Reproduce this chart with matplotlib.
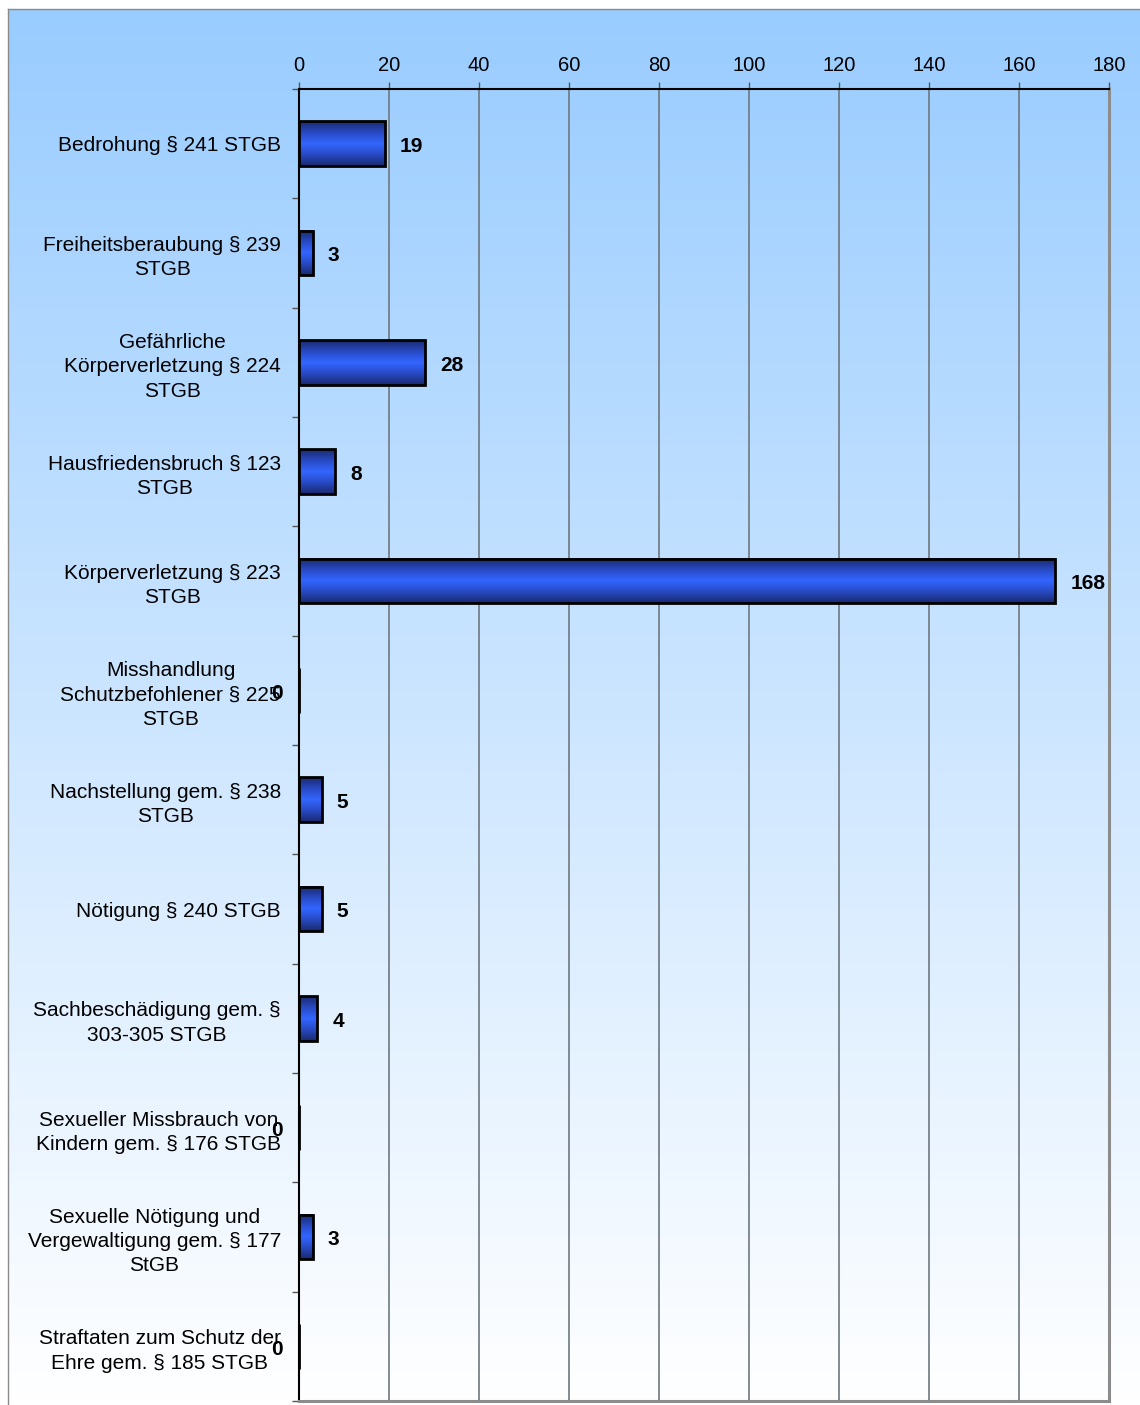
import numpy as np
import matplotlib.pyplot as plt
from matplotlib.colors import LinearSegmentedColormap

plt.rcParams['font.family'] = ['Liberation Sans', 'DejaVu Sans']

categories = [
    "Bedrohung § 241 STGB",
    "Freiheitsberaubung § 239\nSTGB",
    "Gefährliche\nKörperverletzung § 224\nSTGB",
    "Hausfriedensbruch § 123\nSTGB",
    "Körperverletzung § 223\nSTGB",
    "Misshandlung\nSchutzbefohlener § 225\nSTGB",
    "Nachstellung gem. § 238\nSTGB",
    "Nötigung § 240 STGB",
    "Sachbeschädigung gem. §\n303-305 STGB",
    "Sexueller Missbrauch von\nKindern gem. § 176 STGB",
    "Sexuelle Nötigung und\nVergewaltigung gem. § 177\nStGB",
    "Straftaten zum Schutz der\nEhre gem. § 185 STGB",
]
counts = [19, 3, 28, 8, 168, 0, 5, 5, 4, 0, 3, 0]
x_ticks = [0, 20, 40, 60, 80, 100, 120, 140, 160, 180]

W, H = 1140, 1405
fig = plt.figure(figsize=(W / 100, H / 100), dpi=100)

# light blue to white background inside the frame
bg = fig.add_axes([8 / W, 0, 1 - 8 / W, 1 - 9 / H], zorder=0)
grad = np.linspace(0, 1, 256).reshape(-1, 1)
bg_cmap = LinearSegmentedColormap.from_list("bg", ["#99ccff", "#ffffff"])
bg.imshow(grad, aspect="auto", cmap=bg_cmap, extent=[0, 1, 0, 1], origin="upper")
bg.set_axis_off()
fig.add_artist(plt.Line2D([7.5 / W, 7.5 / W], [0, 1 - 8.5 / H], color="#8a8a8a", lw=1.0))
fig.add_artist(plt.Line2D([7.5 / W, 1], [1 - 8.5 / H, 1 - 8.5 / H], color="#8a8a8a", lw=1.0))

ax = fig.add_axes([299 / W, 1 - 1401 / H, (1109 - 299) / W, (1401 - 89) / H], zorder=1)
ax.patch.set_alpha(0)

n = len(categories)
y = np.arange(n)
bar_h = 0.41

bar_cmap = LinearSegmentedColormap.from_list(
    "bar", [(0, "#1a2a6e"), (0.3, "#2a4fd0"), (0.5, "#3366ff"), (0.7, "#2a4fd0"), (1, "#1a2a6e")]
)
for yi, v in zip(y, counts):
    if v > 0:
        ax.imshow(grad, aspect="auto", cmap=bar_cmap, origin="upper",
                  extent=[0, v, yi + bar_h / 2, yi - bar_h / 2], zorder=3)
ax.barh(y, counts, height=bar_h, facecolor="none", edgecolor="black", linewidth=2.0, zorder=4)
ax.set_xlim(0, 180)
ax.set_ylim(n - 0.5, -0.5)

# value labels
for yi, v in zip(y, counts):
    if v > 0:
        ax.annotate(str(v), (v, yi), xytext=(11, -2), textcoords="offset points",
                    ha="left", va="center", fontsize=15, fontweight="bold", zorder=5)
    else:
        ax.annotate(str(v), (v, yi), xytext=(-12, -2), textcoords="offset points",
                    ha="right", va="center", fontsize=15, fontweight="bold", zorder=5,
                    annotation_clip=False)

ax.grid(axis="x", color="#6f7880", lw=1.2, zorder=1)
ax.set_axisbelow(True)

ax.xaxis.tick_top()
ax.set_xticks(x_ticks)
ax.tick_params(axis="x", top=True, bottom=False, length=5, width=1, color="#555555",
               labelsize=14.5, pad=5)

ax.set_yticks(y)
ax.set_yticklabels(categories, fontsize=15)
for lbl in ax.get_yticklabels():
    lbl.set_multialignment("center")
    lbl.set_linespacing(1.35)
ax.tick_params(axis="y", length=0, pad=13)
# short ticks at the category boundaries
ax.set_yticks(np.arange(n + 1) - 0.5, minor=True)
ax.tick_params(axis="y", which="minor", length=5, width=1, color="#555555")

ax.spines["top"].set_color("black")
ax.spines["top"].set_linewidth(1.5)
ax.spines["left"].set_color("black")
ax.spines["left"].set_linewidth(1.5)
ax.spines["right"].set_color("#8c8c8c")
ax.spines["right"].set_linewidth(2.2)
ax.spines["bottom"].set_color("#8c8c8c")
ax.spines["bottom"].set_linewidth(2.2)

fig.savefig("out.png", dpi=100)
